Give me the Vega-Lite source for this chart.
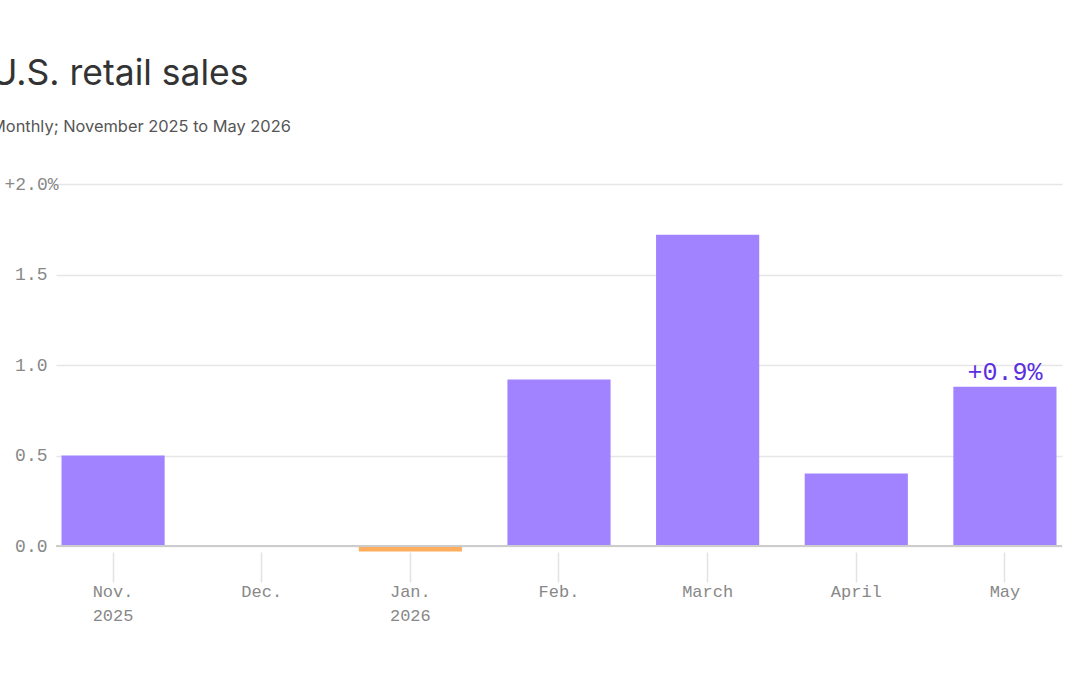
{
  "$schema": "https://vega.github.io/schema/vega-lite/v6.json",
  "width": 1006,
  "height": 362,
  "autosize": {"type": "none"},
  "padding": {"left": 56, "top": 184, "right": 18, "bottom": 129},
  "background": "white",
  "view": {"stroke": null},
  "title": {
    "text": "U.S. retail sales",
    "subtitle": "Monthly; November 2025 to May 2026",
    "anchor": "start",
    "frame": "group",
    "dx": -65,
    "offset": 40,
    "font": "Inter",
    "fontSize": 35.5,
    "fontWeight": 400,
    "color": "#333333",
    "subtitleFont": "Inter",
    "subtitleFontSize": 16.4,
    "subtitleColor": "#555555",
    "subtitlePadding": 26
  },
  "data": {
    "values": [
      {"month": "Nov. 2025", "value": 0.5, "note": null},
      {"month": "Dec.", "value": 0.0, "note": null},
      {"month": "Jan. 2026", "value": -0.03, "note": null},
      {"month": "Feb.", "value": 0.92, "note": null},
      {"month": "March", "value": 1.72, "note": null},
      {"month": "April", "value": 0.4, "note": null},
      {"month": "May", "value": 0.88, "note": "+0.9%"}
    ]
  },
  "layer": [
    {
      "mark": {"type": "bar"},
      "encoding": {
        "x": {
          "field": "month",
          "type": "nominal",
          "sort": null,
          "scale": {"paddingInner": 0.306, "paddingOuter": 0.037},
          "axis": {
            "title": null,
            "domain": false,
            "grid": false,
            "offset": 6,
            "tickSize": 30,
            "tickColor": "#e3e3e3",
            "tickWidth": 1.5,
            "labelPadding": 1,
            "labelFont": "Liberation Mono",
            "labelFontSize": 17,
            "labelColor": "#888888",
            "labelAngle": 0,
            "labelBaseline": "top",
            "labelLineHeight": 24,
            "labelExpr": "split(datum.label, ' ')"
          }
        },
        "y": {
          "field": "value",
          "type": "quantitative",
          "scale": {"domain": [0, 2]},
          "axis": {
            "title": null,
            "domain": false,
            "ticks": false,
            "tickSize": 0,
            "values": [0, 0.5, 1, 1.5, 2],
            "labelAlign": "right",
            "labelBaseline": "middle",
            "labelPadding": {"condition": {"test": "datum.value == 2", "value": -2}, "value": 9},
            "labelFont": "Liberation Mono",
            "labelFontSize": 18,
            "labelColor": "#888888",
            "gridColor": "#e6e6e6",
            "gridWidth": 1.5,
            "labelExpr": "datum.value == 2 ? '+2.0%' : format(datum.value, '.1f')"
          }
        },
        "color": {
          "condition": {"test": "datum.value < 0", "value": "#ffad5f"},
          "value": "#a283ff"
        }
      }
    },
    {
      "mark": {"type": "rule", "color": "#cccccc", "strokeWidth": 2},
      "encoding": {"y": {"datum": 0}}
    },
    {
      "transform": [{"filter": "datum.note != null"}],
      "mark": {
        "type": "text",
        "font": "Liberation Mono",
        "fontSize": 25,
        "color": "#5b2ee0",
        "baseline": "alphabetic",
        "dy": -7
      },
      "encoding": {
        "x": {"field": "month", "type": "nominal", "sort": null},
        "y": {"field": "value", "type": "quantitative"},
        "text": {"field": "note"}
      }
    }
  ]
}
